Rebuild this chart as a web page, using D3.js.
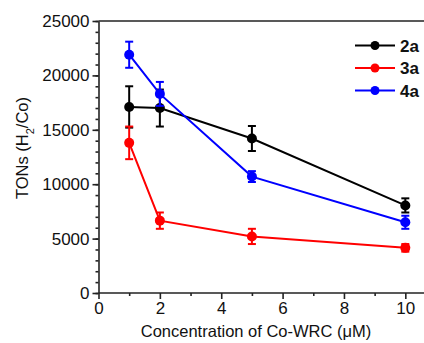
<!DOCTYPE html>
<html lang="en">
<head>
    <meta charset="UTF-8">
    <title>TONs vs Co-WRC</title>
    <script src="https://d3js.org/d3.v7.min.js"></script>
    <style>
        body { margin: 0; background: #fff; }
        svg text { font-family: "Liberation Sans", Arial, sans-serif; fill: #111; }
    </style>
</head>
<body>
    <svg width="424" height="343"></svg>
    <script>
        // data
        const conc = [1, 2, 5, 10];
        const ton2a = [17100, 17000, 14200, 8050];
        const err2a = [1900, 1700, 1150, 650];
        const ton3a = [13800, 6650, 5200, 4150];
        const err3a = [1500, 750, 700, 350];
        const ton4a = [21900, 18300, 10700, 6500];
        const err4a = [1200, 1100, 500, 600];
        const seriesNames = ["2a", "3a", "4a"];
        const seriesColors = ["#000000", "#ff0000", "#0000ff"];
        const xTicks = [0, 2, 4, 6, 8, 10];
        const yTicks = [0, 5000, 10000, 15000, 20000, 25000];

        const series = [
            { name: seriesNames[0], color: seriesColors[0], y: ton2a, e: err2a },
            { name: seriesNames[1], color: seriesColors[1], y: ton3a, e: err3a },
            { name: seriesNames[2], color: seriesColors[2], y: ton4a, e: err4a }
        ];

        let svg = d3.select("svg");
        const x = d3.scaleLinear().domain([0, 11]).range([98.5, 436]);
        const y = d3.scaleLinear().domain([0, 25000]).range([293, 21]);

        // frame top line
        svg.append("line")
            .attr("x1", x(0)).attr("x2", 430)
            .attr("y1", y(25000)).attr("y2", y(25000))
            .attr("stroke", "#222").attr("stroke-width", 1.6);

        // y axis
        const yAxis = svg.append("g").attr("transform", `translate(${x(0)},0)`)
            .call(d3.axisLeft(y).tickValues(yTicks).tickFormat(d3.format("d"))
                .tickSize(6).tickSizeOuter(0).tickPadding(3));
        yAxis.append("g").call(d3.axisLeft(y).tickValues(d3.range(0, 25001, 1000)).tickSize(3).tickFormat(""))
            .select(".domain").remove();

        // x axis
        const xAxis = svg.append("g").attr("transform", `translate(0,${y(0)})`)
            .call(d3.axisBottom(x).tickValues(xTicks).tickFormat(d3.format("d"))
                .tickSize(6).tickSizeOuter(0).tickPadding(3));
        xAxis.append("g").call(d3.axisBottom(x).tickValues([1, 3, 5, 7, 9]).tickSize(3).tickFormat(""))
            .select(".domain").remove();
        xAxis.select(".domain").attr("d", `M${x(0)},0H430`);

        svg.selectAll(".domain, .tick line").attr("stroke", "#222").attr("stroke-width", 1.6);
        svg.selectAll(".tick text").style("font-size", "17px").attr("fill", "#111");

        // axis titles
        svg.append("text")
            .attr("x", 256).attr("y", 337)
            .attr("text-anchor", "middle")
            .style("font-size", "16.5px")
            .text("Concentration of Co-WRC (\u03BCM)");

        const yl = svg.append("text")
            .attr("transform", "translate(28,148) rotate(-90)")
            .attr("text-anchor", "middle")
            .style("font-size", "16.5px");
        yl.append("tspan").text("TONs (H");
        yl.append("tspan").attr("baseline-shift", "sub").style("font-size", "11px").text("2");
        yl.append("tspan").text("/Co)");

        const line = d3.line().x((d, i) => x(conc[i])).y(d => y(d));

        series.forEach(s => {
            const g = svg.append("g");
            g.append("path").datum(s.y)
                .attr("d", line)
                .attr("fill", "none")
                .attr("stroke", s.color)
                .attr("stroke-width", 2);
            const bars = g.selectAll(".eb").data(s.y).enter().append("g");
            bars.append("line")
                .attr("x1", (d, i) => x(conc[i])).attr("x2", (d, i) => x(conc[i]))
                .attr("y1", (d, i) => y(d + s.e[i])).attr("y2", (d, i) => y(d - s.e[i]))
                .attr("stroke", s.color).attr("stroke-width", 2);
            [1, -1].forEach(sg => {
                bars.append("line")
                    .attr("x1", (d, i) => x(conc[i]) - 4).attr("x2", (d, i) => x(conc[i]) + 4)
                    .attr("y1", (d, i) => y(d + sg * s.e[i])).attr("y2", (d, i) => y(d + sg * s.e[i]))
                    .attr("stroke", s.color).attr("stroke-width", 2);
            });
            g.selectAll("circle").data(s.y).enter().append("circle")
                .attr("cx", (d, i) => x(conc[i]))
                .attr("cy", d => y(d))
                .attr("r", 5)
                .attr("fill", s.color);
        });

        // legend
        const leg = svg.append("g");
        series.forEach((s, i) => {
            const ly = 45.5 + i * 22.5;
            leg.append("line").attr("x1", 355).attr("x2", 395).attr("y1", ly).attr("y2", ly)
                .attr("stroke", s.color).attr("stroke-width", 2);
            leg.append("circle").attr("cx", 375).attr("cy", ly).attr("r", 4.5).attr("fill", s.color);
            leg.append("text").attr("x", 400).attr("y", ly + 6)
                .style("font-size", "17px").style("font-weight", "bold")
                .text(s.name);
        });
    </script>
</body>
</html>
